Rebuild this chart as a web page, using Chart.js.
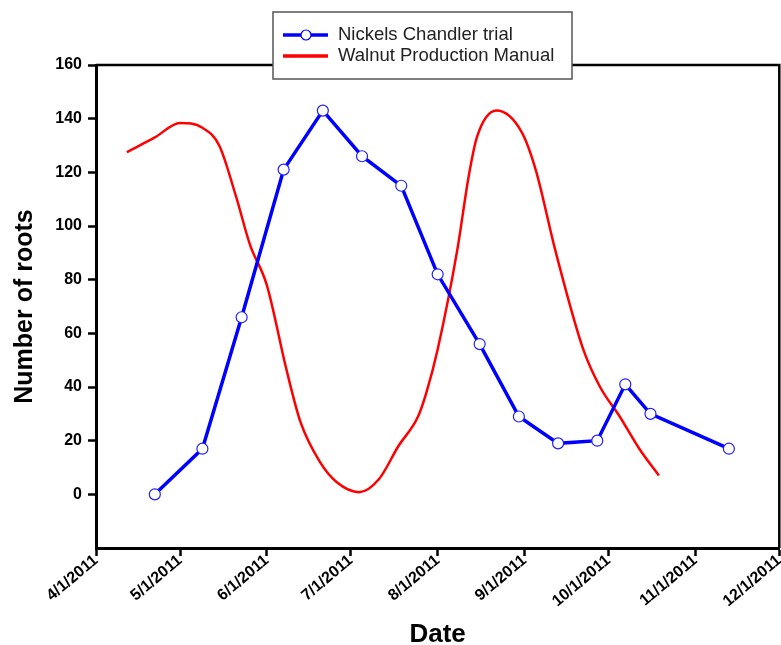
<!DOCTYPE html>
<html>
<head>
<meta charset="utf-8">
<script src="https://cdn.jsdelivr.net/npm/chart.js@4/dist/chart.umd.min.js"></script>
<style>
  html, body { margin: 0; background: #fff; overflow: hidden; }
  canvas { display: block; }
</style>
</head>
<body>
<!-- a few px wider than the window: the last rotated date label is cut at the edge, as in the original -->
<canvas id="rootsChart" width="786" height="645"></canvas>
<script>
// x axis: months (tick positions are days since 4/1/2011)
const monthLabels = ['4/1/2011', '5/1/2011', '6/1/2011', '7/1/2011', '8/1/2011', '9/1/2011', '10/1/2011', '11/1/2011', '12/1/2011'];
const monthDates = ['2011-04-01', '2011-05-01', '2011-06-01', '2011-07-01', '2011-08-01', '2011-09-01', '2011-10-01', '2011-11-01', '2011-12-01'];

// Nickels Chandler trial
const trialDates = ['2011-04-22', '2011-05-09', '2011-05-23', '2011-06-07', '2011-06-21', '2011-07-05', '2011-07-19', '2011-08-01',
    '2011-08-16', '2011-08-30', '2011-09-13', '2011-09-27', '2011-10-07', '2011-10-16', '2011-11-13'];
const trialRoots = [0, 17, 66, 121, 143, 126, 115, 82, 56, 29, 19, 20, 41, 30, 17];

// Walnut Production Manual
const manualDates = ['2011-04-12', '2011-04-22', '2011-05-01', '2011-05-09', '2011-05-15', '2011-05-21', '2011-05-26', '2011-06-01',
    '2011-06-08', '2011-06-13', '2011-06-20', '2011-06-26', '2011-07-04', '2011-07-11', '2011-07-18', '2011-07-25', '2011-07-28',
    '2011-08-01', '2011-08-08', '2011-08-12', '2011-08-15', '2011-08-22', '2011-08-31', '2011-09-05', '2011-09-12', '2011-09-22',
    '2011-09-28', '2011-10-05', '2011-10-12', '2011-10-19'];
const manualRoots = [127.5, 133, 138.4, 136.6, 130, 111, 93, 78, 46.5, 27, 12, 4.5, 0.8, 5.6, 18, 29, 38, 54, 91, 118, 133, 143,
    135, 121, 91, 54, 40, 29, 17, 7];

const yTicks = [0, 20, 40, 60, 80, 100, 120, 140, 160];

// days since 4/1/2011
const startMs = Date.parse(monthDates[0]);
function toDay(s) {
    return Math.round((Date.parse(s) - startMs) / 86400000);
}

const monthDays = monthDates.map(toDay);
const font = 'Liberation Sans, Arial, sans-serif';

// plot frame (top + right) and the boxed legend
const framePlugin = {
    id: 'frame',
    beforeDatasetsDraw(chart) {
        const { ctx, chartArea: a } = chart;
        ctx.save();
        ctx.strokeStyle = '#000';
        ctx.lineWidth = 2.5;
        ctx.beginPath();
        ctx.moveTo(a.left, a.top);
        ctx.lineTo(a.right, a.top);
        ctx.lineTo(a.right, a.bottom);
        ctx.stroke();
        ctx.restore();
    },
    afterDraw(chart) {
        const ctx = chart.ctx;
        const ds = chart.data.datasets;
        ctx.save();
        ctx.fillStyle = '#fff';
        ctx.fillRect(273, 12, 299, 67);
        ctx.strokeStyle = '#555';
        ctx.lineWidth = 1.5;
        ctx.strokeRect(273, 12, 299, 67);

        ctx.lineCap = 'butt';
        // row 1
        ctx.strokeStyle = ds[0].borderColor;
        ctx.lineWidth = 3.5;
        ctx.beginPath(); ctx.moveTo(283, 35); ctx.lineTo(328, 35); ctx.stroke();
        ctx.fillStyle = '#fff';
        ctx.lineWidth = 1.2;
        ctx.beginPath(); ctx.arc(306, 35, 5, 0, Math.PI * 2); ctx.fill(); ctx.stroke();
        // row 2
        ctx.strokeStyle = ds[1].borderColor;
        ctx.lineWidth = 3.5;
        ctx.beginPath(); ctx.moveTo(283, 56); ctx.lineTo(328, 56); ctx.stroke();

        ctx.fillStyle = '#222';
        ctx.font = '18.5px ' + font;
        ctx.textBaseline = 'middle';
        ctx.fillText(ds[0].label, 338, 35);
        ctx.fillText(ds[1].label, 338, 56);
        ctx.restore();
    }
};

const ctx = document.getElementById('rootsChart').getContext('2d');
new Chart(ctx, {
    type: 'line',
    data: {
        datasets: [{
            label: 'Nickels Chandler trial',
            data: trialDates.map((d, i) => ({ x: toDay(d), y: trialRoots[i] })),
            borderColor: '#0000ff',
            borderWidth: 3.5,
            pointRadius: 5.5,
            pointBackgroundColor: '#fff',
            pointBorderColor: '#2020ff',
            pointBorderWidth: 1.2,
            tension: 0
        }, {
            label: 'Walnut Production Manual',
            data: manualDates.map((d, i) => ({ x: toDay(d), y: manualRoots[i] })),
            borderColor: '#ff0000',
            borderWidth: 2.5,
            pointRadius: 0,
            cubicInterpolationMode: 'monotone'
        }]
    },
    options: {
        responsive: false,
        animation: false,
        layout: { padding: { top: 65, right: 0, left: 0, bottom: 0 } },
        plugins: {
            legend: { display: false },
            tooltip: { enabled: false }
        },
        scales: {
            x: {
                type: 'linear',
                min: monthDays[0],
                max: monthDays[monthDays.length - 1],
                afterBuildTicks: scale => { scale.ticks = monthDays.map(v => ({ value: v })); },
                afterFit: scale => {
                    scale.height = 97;
                    scale.paddingLeft = 0;
                    scale.paddingRight = 0;
                },
                grid: { drawOnChartArea: false, drawTicks: true, tickLength: 8, tickWidth: 2.5, tickColor: '#000' },
                border: { display: true, color: '#000', width: 3 },
                ticks: {
                    autoSkip: false,
                    minRotation: 40,
                    maxRotation: 40,
                    padding: -5,
                    color: '#000',
                    font: { family: font, size: 16, weight: 'bold' },
                    callback: v => monthLabels[monthDays.indexOf(v)]
                },
                title: {
                    display: true,
                    text: 'Date',
                    color: '#000',
                    padding: { top: 0, bottom: -5 },
                    font: { family: font, size: 26, weight: 'bold' }
                }
            },
            y: {
                min: -20,
                max: 160,
                afterBuildTicks: scale => { scale.ticks = [-20].concat(yTicks).map(v => ({ value: v })); },
                afterFit: scale => { scale.width = 96; },
                grid: {
                    drawOnChartArea: false, drawTicks: true, tickLength: 8, tickWidth: 2.5,
                    tickColor: c => (c.tick && c.tick.value < 0 ? 'rgba(0,0,0,0)' : '#000')
                },
                border: { display: true, color: '#000', width: 3 },
                ticks: {
                    padding: 6,
                    color: '#000',
                    font: { family: font, size: 16, weight: 'bold' },
                    callback: v => (v < 0 ? '' : v)
                },
                title: {
                    display: true,
                    text: 'Number of roots',
                    color: '#000',
                    padding: { top: 10, bottom: 0 },
                    font: { family: font, size: 25, weight: 'bold' }
                }
            }
        }
    },
    plugins: [framePlugin]
});
</script>
</body>
</html>
